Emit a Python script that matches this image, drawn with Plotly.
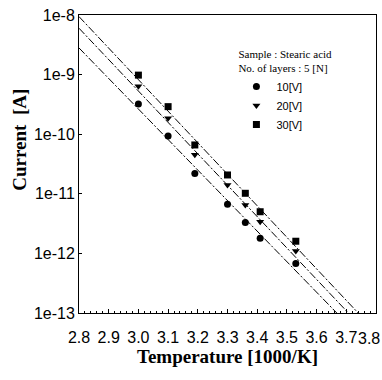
import plotly.graph_objects as go

# Temperature axis values (1000/K)
temp_x = [3.00, 3.10, 3.19, 3.30, 3.36, 3.41, 3.53]

# Current [A] for each applied voltage
current_10v = [3.2e-10, 9.3e-11, 2.2e-11, 6.7e-12, 3.3e-12, 1.8e-12, 6.8e-13]
current_20v = [6.4e-10, 1.85e-10, 4.5e-11, 1.4e-11, 6.5e-12, 3.4e-12, 1.1e-12]
current_30v = [9.8e-10, 2.9e-10, 6.6e-11, 2.07e-11, 1.02e-11, 5.0e-12, 1.6e-12]

# Fitted lines (endpoints)
fit_10v_x = [2.80, 3.668]
fit_10v_y = [2.8e-9, 1e-13]
fit_20v_x = [2.80, 3.707]
fit_20v_y = [6.0e-9, 1e-13]
fit_30v_x = [2.80, 3.740]
fit_30v_y = [9.4e-9, 1e-13]

series_names = ["10[V]", "20[V]", "30[V]"]
y_tickvals = [1e-13, 1e-12, 1e-11, 1e-10, 1e-9, 1e-8]
y_ticktext = ["1e-13", "1e-12", "1e-11", "1e-10", "1e-9", "1e-8"]
x_tickvals = [2.8, 2.9, 3.0, 3.1, 3.2, 3.3, 3.4, 3.5, 3.6, 3.7, 3.8]
x_ticktext = ["2.8", "2.9", "3.0", "3.1", "3.2", "3.3", "3.4", "3.5", "3.6", "3.7", "3.8"]

fig = go.Figure()

line_style = dict(color="black", width=1, dash="8px,2px,2px,2px")
for fx, fy in [(fit_10v_x, fit_10v_y), (fit_20v_x, fit_20v_y), (fit_30v_x, fit_30v_y)]:
    fig.add_trace(go.Scatter(x=fx, y=fy, mode="lines", line=line_style,
                             showlegend=False, hoverinfo="skip"))

symbols = ["circle", "triangle-down", "square"]
for name, ys, sym in zip(series_names, [current_10v, current_20v, current_30v], symbols):
    fig.add_trace(go.Scatter(x=temp_x, y=ys, mode="markers", name=name,
                             marker=dict(symbol=sym, color="black", size=7,
                                         line=dict(width=0))))

tick_font = dict(size=16, family="Liberation Sans, Arial", color="black")

fig.update_layout(
    width=382, height=380,
    margin=dict(l=79, r=6, t=15, b=67),
    paper_bgcolor="white", plot_bgcolor="white",
    font=dict(family="Liberation Sans, Arial", color="black"),
    showlegend=True,
    legend=dict(
        x=0.53, y=0.905, xanchor="left", yanchor="top",
        bgcolor="rgba(0,0,0,0)",
        font=dict(family="Liberation Sans, Arial", size=11, color="black"),
        title=dict(text="Sample : Stearic acid<br>No. of layers : 5 [N]",
                   font=dict(family="Liberation Serif, Times New Roman", size=11, color="black"),
                   side="top"),
        itemsizing="trace",
    ),
    xaxis=dict(
        range=[2.8, 3.8], tickvals=x_tickvals[:-1], ticktext=x_ticktext[:-1],
        ticks="inside", ticklen=4, tickcolor="black",
        minor=dict(ticks="inside", ticklen=2, dtick=0.02, tickcolor="black"),
        showline=True, linecolor="black", linewidth=1, mirror=True,
        showgrid=False, zeroline=False,
        ticklabelstandoff=10,
        tickfont=tick_font,
        title=dict(text="<b>Temperature [1000/K]</b>",
                   font=dict(family="Liberation Serif, Times New Roman", size=19, color="black"),
                   standoff=4),
    ),
    yaxis=dict(
        type="log", range=[-13, -8], tickvals=y_tickvals, ticktext=y_ticktext,
        ticks="inside", ticklen=3, tickcolor="black",
        showline=True, linecolor="black", linewidth=1, mirror=True,
        showgrid=False, zeroline=False,
        tickfont=tick_font,
    ),
    annotations=[
        dict(text="<b>Current  [A]</b>", textangle=-90,
             xref="paper", yref="paper", x=-0.2, y=0.58,
             xanchor="center", yanchor="middle", showarrow=False,
             font=dict(family="Liberation Serif, Times New Roman", size=19, color="black")),
        # last x tick label, kept inside the window at the right edge of the axis
        dict(text=x_ticktext[-1], xref="x", yref="paper",
             x=x_tickvals[-1], y=0, xanchor="right", yanchor="top",
             xshift=6, yshift=-15, showarrow=False, font=tick_font),
    ],
)

fig.write_html("out.html")
